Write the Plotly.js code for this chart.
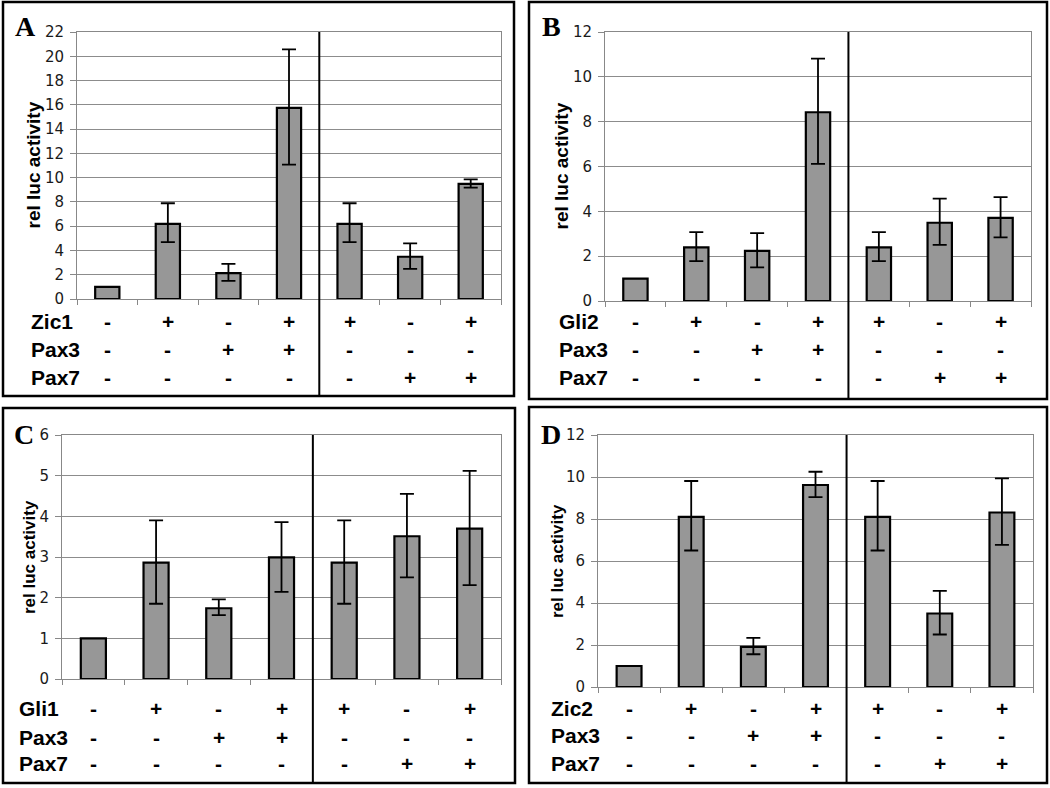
<!DOCTYPE html>
<html>
<head>
<meta charset="utf-8">
<script src="https://cdn.plot.ly/plotly-3.0.1.min.js"></script>
<style>html,body{margin:0;padding:0;background:#fff;}#chart{width:1050px;height:788px;}</style>
</head>
<body>
<div id="chart"></div>
<script>
// ---- data ----
const panelLetters = ['A', 'B', 'C', 'D'];
const factorA = 'Zic1';
const factorB = 'Gli2';
const factorC = 'Gli1';
const factorD = 'Zic2';
const rowLabels2 = ['Pax3', 'Pax7'];
const factorSigns = ['-', '+', '-', '+', '+', '-', '+'];
const pax3Signs   = ['-', '-', '+', '+', '-', '-', '-'];
const pax7Signs   = ['-', '-', '-', '-', '-', '+', '+'];
const yTitle = 'rel luc activity';

const valuesA  = [1, 6.19, 2.14, 15.75, 6.19, 3.48, 9.48];
const errUpA   = [NaN, 1.70, 0.76, 4.82, 1.70, 1.10, 0.38];
const errDownA = [NaN, 1.51, 0.64, 4.68, 1.51, 0.99, 0.30];

const valuesB  = [1, 2.39, 2.24, 8.42, 2.39, 3.49, 3.71];
const errUpB   = [NaN, 0.68, 0.79, 2.39, 0.68, 1.08, 0.92];
const errDownB = [NaN, 0.61, 0.74, 2.30, 0.61, 0.99, 0.87];

const valuesC  = [1, 2.86, 1.74, 2.99, 2.86, 3.51, 3.70];
const errUpC   = [NaN, 1.04, 0.22, 0.87, 1.04, 1.04, 1.42];
const errDownC = [NaN, 1.01, 0.17, 0.85, 1.01, 1.01, 1.39];

const valuesD  = [1, 8.10, 1.91, 9.62, 8.10, 3.50, 8.31];
const errUpD   = [NaN, 1.71, 0.43, 0.63, 1.71, 1.08, 1.62];
const errDownD = [NaN, 1.60, 0.35, 0.58, 1.60, 1.00, 1.54];

const yMaxes = [22, 12, 6, 12];
const yDticks = [2, 2, 1, 2];

// ---- layout geometry (pixels in 1050x788) ----
const W = 1050, H = 788;
const px = v => v / W;
const py = v => 1 - v / H;

const panels = [
  {factor: factorA, vals: valuesA, up: errUpA, dn: errDownA,
   plot: [77, 501, 32, 299], box: [3, 514, 2, 396], letter: [25, 27],
   ytitleX: 33, labelX: 29, rows: [322, 350, 378], titleSize: 19},
  {factor: factorB, vals: valuesB, up: errUpB, dn: errDownB,
   plot: [605, 1031, 32, 301], box: [529, 1047, 2, 399], letter: [551, 27],
   ytitleX: 561, labelX: 557, rows: [322, 350, 378], titleSize: 19},
  {factor: factorC, vals: valuesC, up: errUpC, dn: errDownC,
   plot: [62, 501, 435, 679], box: [3, 515, 408, 783], letter: [24, 434],
   ytitleX: 29, labelX: 17, rows: [708, 737, 763], titleSize: 17},
  {factor: factorD, vals: valuesD, up: errUpD, dn: errDownD,
   plot: [598, 1033, 435, 687], box: [529, 1047, 407, 783], letter: [551, 434],
   ytitleX: 557, labelX: 549, rows: [708, 735, 763], titleSize: 17}
];

const data = [];
const layout = {
  width: W, height: H,
  margin: {l: 0, r: 0, t: 0, b: 0},
  paper_bgcolor: '#fff', plot_bgcolor: '#fff',
  showlegend: false,
  bargap: 0.6,
  shapes: [], annotations: []
};

const boldFont = {family: 'Liberation Sans, Arial, sans-serif', size: 21, color: '#000'};

panels.forEach((p, i) => {
  const sfx = i === 0 ? '' : String(i + 1);
  const xa = 'x' + sfx, ya = 'y' + sfx;
  const xs = p.vals.map((v, k) => k);
  data.push({
    type: 'bar', x: xs, y: p.vals, xaxis: xa, yaxis: ya,
    marker: {color: '#979797', line: {color: '#000', width: 2.2}},
    error_y: {type: 'data', symmetric: false, array: p.up, arrayminus: p.dn,
              color: '#000', thickness: 1.8, width: 7},
    hoverinfo: 'skip'
  });
  layout['xaxis' + sfx] = {
    domain: [px(p.plot[0]), px(p.plot[1])], anchor: ya,
    range: [-0.5, 6.5], showgrid: false, zeroline: false,
    showline: true, linecolor: '#888', linewidth: 1, mirror: true,
    ticks: 'outside', ticklen: 5, tickcolor: '#888',
    tickmode: 'array', tickvals: [-0.5, 0.5, 1.5, 2.5, 3.5, 4.5, 5.5, 6.5],
    showticklabels: false, fixedrange: true
  };
  layout['yaxis' + sfx] = {
    domain: [py(p.plot[3]), py(p.plot[2])], anchor: xa,
    range: [0, yMaxes[i]], dtick: yDticks[i], tick0: 0,
    showgrid: true, gridcolor: '#8c8c8c', gridwidth: 1, zeroline: false,
    showline: true, linecolor: '#888', linewidth: 1, mirror: true,
    ticks: 'outside', ticklen: 6, tickcolor: '#888', ticklabelstandoff: 3,
    tickfont: {family: 'DejaVu Sans, Verdana, sans-serif', size: 15, color: '#1a1a1a'},
    fixedrange: true
  };
  // panel frame
  layout.shapes.push({type: 'rect', xref: 'paper', yref: 'paper',
    x0: px(p.box[0]), x1: px(p.box[1]), y0: py(p.box[3]), y1: py(p.box[2]),
    line: {color: '#000', width: 2.5}, fillcolor: 'rgba(0,0,0,0)', layer: 'above'});
  // divider between groups
  layout.shapes.push({type: 'line', xref: xa, yref: 'paper',
    x0: 3.5, x1: 3.5, y0: py(p.plot[2]), y1: py(p.box[3]),
    line: {color: '#000', width: 2}, layer: 'above'});
  // panel letter
  layout.annotations.push({xref: 'paper', yref: 'paper', x: px(p.letter[0]), y: py(p.letter[1]),
    text: '<b>' + panelLetters[i] + '</b>', showarrow: false, xanchor: 'center', yanchor: 'middle',
    font: {family: 'Liberation Serif, Times New Roman, serif', size: 28, color: '#000'}});
  // y title
  layout.annotations.push({xref: 'paper', yref: 'paper', x: px(p.ytitleX),
    y: py((p.plot[2] + p.plot[3]) / 2), text: '<b>' + yTitle + '</b>', textangle: -90,
    showarrow: false, xanchor: 'center', yanchor: 'middle',
    font: {family: 'Liberation Sans, Arial, sans-serif', size: p.titleSize, color: '#000'}});
  // condition table
  const names = [p.factor].concat(rowLabels2);
  const signs = [factorSigns, pax3Signs, pax7Signs];
  names.forEach((nm, r) => {
    layout.annotations.push({xref: 'paper', yref: 'paper', x: px(p.labelX), y: py(p.rows[r]),
      text: '<b>' + nm + '</b>', showarrow: false, xanchor: 'left', yanchor: 'middle', font: boldFont});
    signs[r].forEach((s, k) => {
      layout.annotations.push({xref: xa, yref: 'paper', x: k, y: py(p.rows[r]),
        text: '<b>' + s + '</b>', showarrow: false, xanchor: 'center', yanchor: 'middle', font: boldFont});
    });
  });
});

Plotly.newPlot('chart', data, layout, {staticPlot: true, displayModeBar: false});
</script>
</body>
</html>
